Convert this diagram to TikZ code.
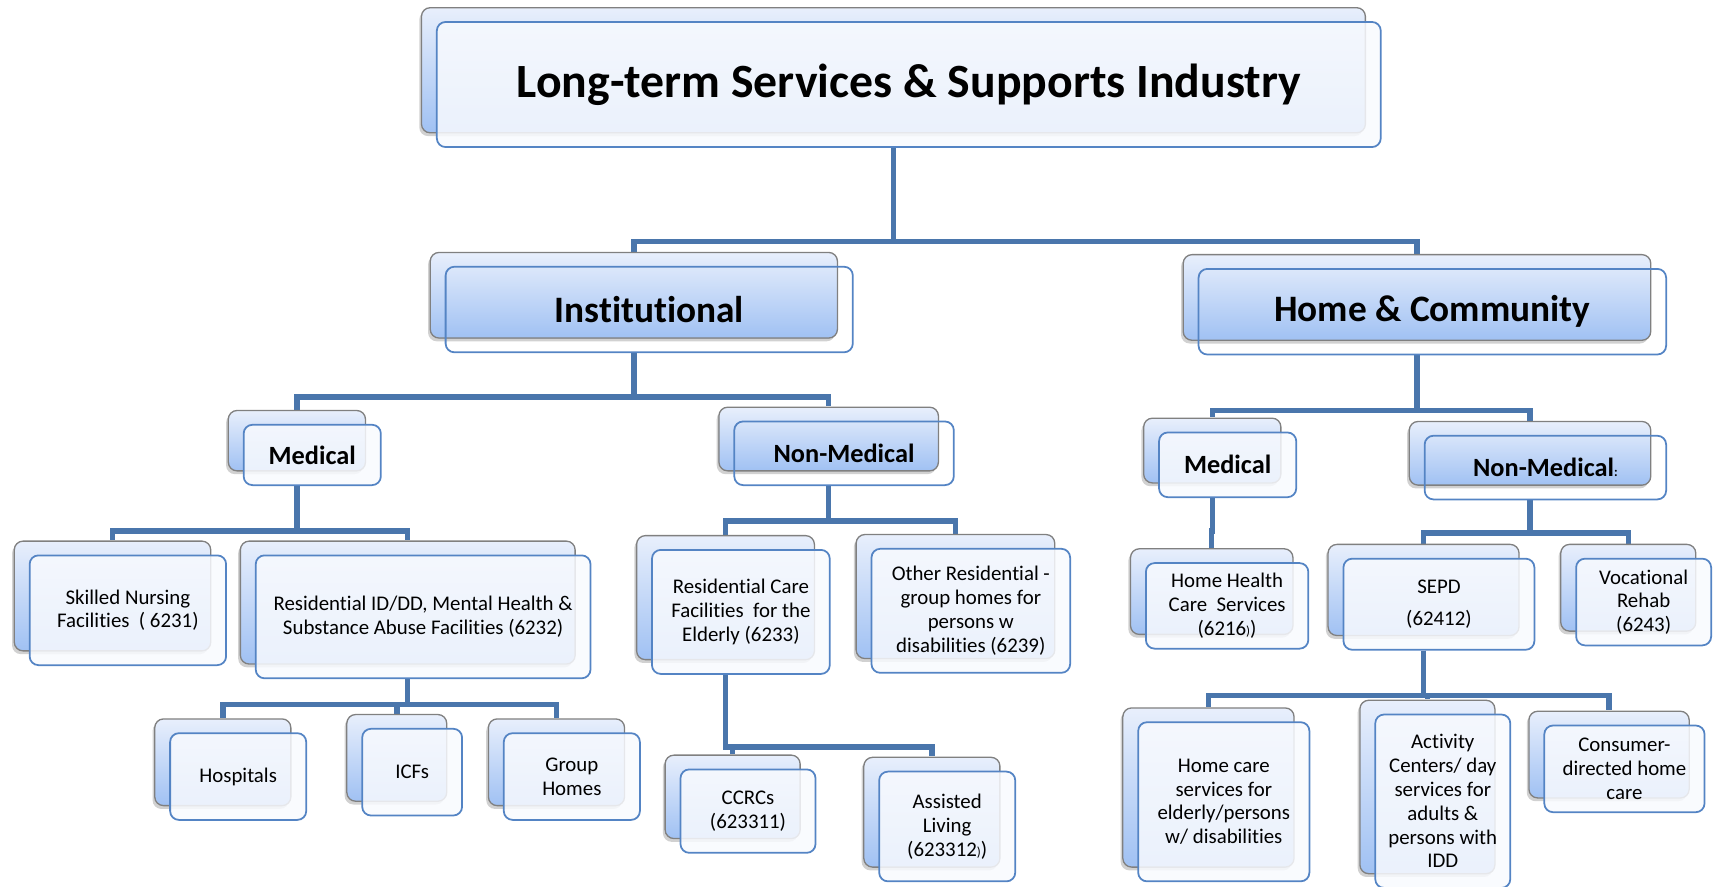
\documentclass[tikz,border=0pt]{standalone}
\usepackage{fontspec}
\setmainfont[Ligatures=NoCommon]{Carlito}
\usetikzlibrary{shadows}
\usetikzlibrary{backgrounds}
\definecolor{linkblue}{RGB}{74,118,172}
\definecolor{frameblue}{RGB}{84,132,196}
\definecolor{backtop}{RGB}{232,239,252}
\definecolor{backbottom}{RGB}{160,193,243}
\definecolor{backframe}{RGB}{128,128,128}
\definecolor{frontfill}{RGB}{248,250,254}
\tikzset{
  link/.style={linkblue, line width=5pt},
  dims/.style 2 args={minimum width=#1pt, minimum height=#2pt},
  box/.style={rectangle, rounded corners=8pt, draw=frameblue, line width=1.6pt,
    inner sep=1pt, align=center, text opacity=1,
    general shadow={shadow xshift=-16pt, shadow yshift=10pt, fill=black, draw=none, opacity=.18},
    copy shadow={shadow xshift=-14pt, shadow yshift=13pt, opacity=1,
      top color=backtop, bottom color=backbottom, draw=backframe, line width=1.2pt}},
  filled/.style={box, fill=frontfill, fill opacity=.85},
  hollow/.style={box},
  tier0/.style={font=\bfseries\fontsize{43.5}{52}\selectfont},
  tier1/.style={font=\bfseries\fontsize{34}{40}\selectfont},
  tier2/.style={font=\bfseries\fontsize{24}{29}\selectfont},
  leaf/.style={font=\fontsize{19}{21.7}\selectfont}
}

\begin{document}
\begin{tikzpicture}[x=1pt, y=-1pt]
  \useasboundingbox (0,0) rectangle (1568,808);

  % top and first split
  \node[filled, tier0, dims={860}{114}] (root) at (828,77) {Long-term Services \& Supports Industry};
  \node[hollow, tier1, dims={371}{78}] (inst) at (591.5,282) {Institutional};
  \node[hollow, tier1, dims={426}{78}] (home) at (1305,284) {Home \& Community};

  % institutional side
  \node[filled, tier2, dims={125}{55}] (imed) at (284.5,414.5) {Medical};
  \node[hollow, tier2, dims={200}{58}] (inonmed) at (769,413) {Non-Medical};
  \node[filled, leaf, dims={179}{100}] (skilled) at (116.5,556) {Skilled Nursing\\Facilities\ \ ( 6231)};
  \node[filled, leaf, dims={305}{112}] (resid) at (385.5,562) {Residential ID/DD, Mental Health \&\\Substance Abuse Facilities (6232)};
  \node[filled, leaf, dims={124}{79}] (hosp) at (217,707.5) {Hospitals};
  \node[filled, leaf, dims={91}{79}] (icf) at (375.5,703.5) {ICFs};
  \node[filled, leaf, dims={124}{79}] (group) at (521,707.5) {Group\\Homes};
  \node[filled, leaf, dims={162}{113}] (rcfe) at (675,557.5) {Residential Care\\Facilities\ \ for the\\Elderly (6233)};
  \node[filled, leaf, dims={181}{113}] (other) at (884.5,556.5) {Other Residential -\\group homes for\\persons w\\disabilities (6239)};
  \node[filled, leaf, dims={123}{76}] (ccrc) at (681.5,739) {CCRCs\\(623311)};
  \node[filled, leaf, dims={124}{100}] (assist) at (863,753) {Assisted\\Living\\(623312{\fontsize{12}{12}\selectfont )})};

  % home and community side
  \node[filled, tier2, dims={125}{59}] (hmed) at (1118.5,423.5) {Medical};
  \node[hollow, tier2, dims={220}{58}] (hnonmed) at (1408,426) {Non-Medical{\fontsize{12}{12}\selectfont :}};
  \node[filled, leaf, dims={148}{78}] (homehealth) at (1118,552) {Home Health\\Care\ \ Services\\(6216{\fontsize{12}{12}\selectfont )})};
  \node[filled, leaf, dims={174}{83}] (sepd) at (1311,550.5) {SEPD\\[7pt](62412)};
  \node[filled, leaf, dims={123}{79}] (voc) at (1497.5,548.5) {Vocational\\Rehab\\(6243)};
  \node[filled, leaf, dims={156}{145}] (homecare) at (1115,730.5) {Home care\\services for\\elderly/persons\\w/ disabilities};
  \node[filled, leaf, dims={123}{158}] (activity) at (1314.5,730) {Activity\\Centers/ day\\services for\\adults \&\\persons with\\IDD};
  \node[filled, leaf, dims={146}{79}] (consumer) at (1480,700.5) {Consumer-\\directed home\\care};

  % elbow connectors, parent / drop to bus / child
  \begin{scope}[on background layer]
    \foreach \parent/\gap/\kid in {root/85/inst, root/85/home,
        inst/40/imed, inst/40/inonmed, imed/41/skilled, imed/41/resid,
        resid/23/hosp, resid/23/icf, resid/23/group,
        inonmed/32/rcfe, inonmed/32/other, rcfe/66/ccrc, rcfe/66/assist,
        home/50/hmed, home/50/hnonmed, hmed/30/homehealth,
        hnonmed/30/sepd, hnonmed/30/voc,
        sepd/41/homecare, sepd/41/activity, sepd/41/consumer}
      \draw[link] ([xshift=-14pt]\parent.south) -- ++(0,\gap) -| ([xshift=-14pt,yshift=13pt]\kid.north);
  \end{scope}
\end{tikzpicture}
\end{document}
